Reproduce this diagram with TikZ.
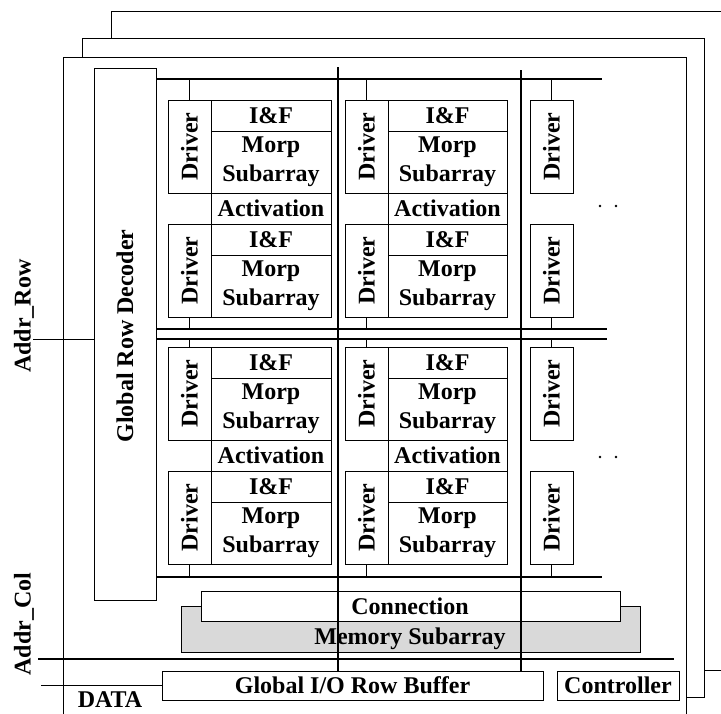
\documentclass[tikz,border=0pt]{standalone}
\usepackage{fontspec}
\setmainfont{Liberation Serif}
\usetikzlibrary{fit}
\begin{document}
\begin{tikzpicture}[x=1pt,y=-1pt,
  box/.style={draw, fill=white, line width=0.9pt, inner sep=0pt},
  grayblock/.style={draw, fill=black!15, line width=0.9pt, inner sep=0pt},
  lbl/.style={font=\fontsize{24}{29}\selectfont\bfseries, align=center, inner sep=0pt},
  bus/.style={line width=1.4pt},
  wire/.style={line width=0.9pt}]
\useasboundingbox (0,0) rectangle (721,713);
\clip (0,0) rectangle (721,713);
% stacked frames
\node[box, fit={(111,11) (740,670)}] (back) {};
\node[box, fit={(82,38) (704,697)}] (mid) {};
\node[box, fit={(63,57) (686,740)}] (front) {};
% global row decoder
\node[box, fit={(94,68) (156,600)}] (grd) {};
\node[lbl, rotate=90] at (125,336) {Global Row Decoder};
% Addr_Row
\node[lbl, rotate=90] (arow) at (24,316) {Addr\_Row};
\coordinate (arl) at (33,339);
\draw[wire] (arl) -- (arl -| grd.west);
% buses
\coordinate (bt) at (156,79);
\coordinate (bm1) at (156,329);
\coordinate (bm2) at (156,339);
\coordinate (bb) at (156,577);
\draw[bus] (bt) -- (602,79);
\draw[bus] (bm1) -- (607,329);
\draw[bus] (bm2) -- (607,339);
\draw[bus] (bb) -- (602,577);
% cells
\foreach \c/\xa/\xb/\xc in {1/168/211/331, 2/345/388/507}{
  \foreach \h/\y/\ta/\tb in {t/100/79/329, b/347/339/577}{
    \node[box, fit={(\xa,\y) (\xb,\y+93)}] (d\c\h1) {};
    \node[lbl, rotate=90] at (d\c\h1) {Driver};
    \node[box, fit={(\xb,\y) (\xc,\y+31)}] (f\c\h1) {};
    \node[lbl] at (f\c\h1) {I\&F};
    \node[box, fit={(\xb,\y+31) (\xc,\y+93)}] (m\c\h1) {};
    \node[lbl] at (m\c\h1) {Morp\\Subarray};
    \node[box, fit={(\xb,\y+93) (\xc,\y+124)}] (a\c\h) {};
    \node[lbl] at (a\c\h) {Activation};
    \node[box, fit={(\xa,\y+124) (\xb,\y+217)}] (d\c\h2) {};
    \node[lbl, rotate=90] at (d\c\h2) {Driver};
    \node[box, fit={(\xb,\y+124) (\xc,\y+155)}] (f\c\h2) {};
    \node[lbl] at (f\c\h2) {I\&F};
    \node[box, fit={(\xb,\y+155) (\xc,\y+217)}] (m\c\h2) {};
    \node[lbl] at (m\c\h2) {Morp\\Subarray};
    \draw[wire] (d\c\h1.north) -- (d\c\h1.north |- 0,\ta);
    \draw[wire] (d\c\h2.south) -- (d\c\h2.south |- 0,\tb);
  }
}
\foreach \h/\y/\ta/\tb/\dy in {t/100/79/329/206, b/347/339/577/457}{
  \node[box, fit={(530,\y) (573,\y+93)}] (d3\h1) {};
  \node[lbl, rotate=90] at (d3\h1) {Driver};
  \node[box, fit={(530,\y+124) (573,\y+217)}] (d3\h2) {};
  \node[lbl, rotate=90] at (d3\h2) {Driver};
  \draw[wire] (d3\h1.north) -- (d3\h1.north |- 0,\ta);
  \draw[wire] (d3\h2.south) -- (d3\h2.south |- 0,\tb);
  \fill (600,\dy) circle (1.3);
  \fill (616,\dy) circle (1.3);
}
% memory subarray and connection
\node[grayblock, fit={(181,606) (640,652)}] (mem) {};
\node[lbl] at (410,639) {Memory Subarray};
\node[box, fit={(201,591) (620,621)}] (conn) {};
\node[lbl] at (410,606) {Connection};
% bottom row
\node[box, fit={(162,671) (543,700)}] (gio) {};
\node[lbl] at (gio) {Global I/O Row Buffer};
\node[box, fit={(557,671) (679,700)}] (ctrl) {};
\node[lbl] at (ctrl) {Controller};
% column verticals
\coordinate (v1) at (338,67);
\coordinate (v2) at (521,70);
\draw[bus] (v1) -- (v1 |- gio.north);
\draw[bus] (v2) -- (v2 |- gio.north);
% Addr_Col
\node[lbl, rotate=90] (acol) at (24,624) {Addr\_Col};
\coordinate (acl1) at (38,659);
\coordinate (acl2) at (674,659);
\draw[bus] (acl1) -- (acl2);
% DATA
\node[lbl, anchor=base] (data) at (110,707) {DATA};
\coordinate (dl) at (41,685.5);
\draw[wire] (dl) -- (gio.west);
\end{tikzpicture}
\end{document}
